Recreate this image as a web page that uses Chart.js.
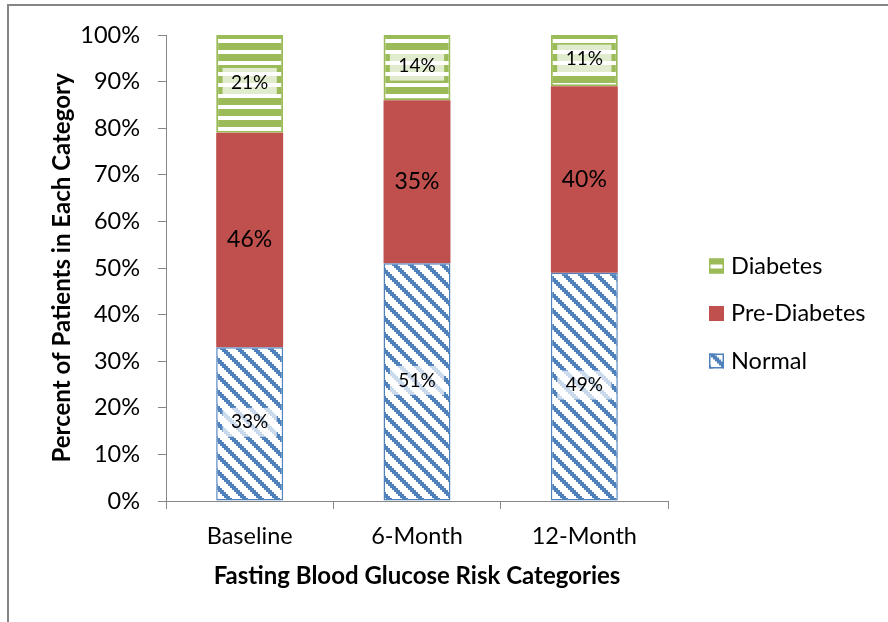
<!DOCTYPE html>
<html>
<head>
<meta charset="utf-8">
<script src="https://cdn.jsdelivr.net/npm/chart.js@4.4.1/dist/chart.umd.min.js"></script>
<style>
  html, body { margin: 0; padding: 0; background: #fff; }
  canvas { display: block; }
</style>
</head>
<body>
<canvas id="chart" width="888" height="622"></canvas>
<script>
// Categories and stacked series (percent of patients)
const categories = ['Baseline', '6-Month', '12-Month'];
const normal = [33, 51, 49];
const preDiabetes = [46, 35, 40];
const diabetes = [21, 14, 11];
const yTickStep = 10;

const FONT = 'Lato, Carlito, Calibri, sans-serif';
const TEXT_SIZE = 23.5;
const BLUE = '#4F81BD';
const RED = '#C0504D';
const GREEN = '#9BBB59';
const AXIS = '#868686';

// Wide downward-diagonal hatch (blue on white)
function diagonalPattern() {
  const c = document.createElement('canvas');
  c.width = 16; c.height = 16;
  const g = c.getContext('2d');
  g.fillStyle = '#fff';
  g.fillRect(0, 0, 16, 16);
  g.fillStyle = BLUE;
  for (let y = 0; y < 16; y += 2) {
    for (const dx of [-16, 0, 16]) g.fillRect(y + dx, y, 6, 2);
  }
  return g.createPattern(c, 'repeat');
}

// Wide horizontal stripes (green with white bands)
function horizontalPattern() {
  const c = document.createElement('canvas');
  c.width = 8; c.height = 11;
  const g = c.getContext('2d');
  g.fillStyle = GREEN;
  g.fillRect(0, 0, 8, 11);
  g.fillStyle = '#fff';
  g.fillRect(0, 6, 8, 4);
  return g.createPattern(c, 'repeat');
}

const normalFill = diagonalPattern();
const diabetesFill = horizontalPattern();

// Outer chart frame
const framePlugin = {
  id: 'frame',
  beforeDraw(chart) {
    const ctx = chart.ctx;
    ctx.save();
    ctx.fillStyle = AXIS;
    ctx.fillRect(7, 4, chart.width, 2);
    ctx.fillRect(7, 4, 2, chart.height);
    ctx.restore();
  }
};

// Value labels centred in each stacked segment
const valueLabels = {
  id: 'valueLabels',
  afterDatasetsDraw(chart) {
    const ctx = chart.ctx;
    chart.data.datasets.forEach((ds, di) => {
      const meta = chart.getDatasetMeta(di);
      if (meta.hidden) return;
      meta.data.forEach((bar, i) => {
        const text = ds.data[i] + '%';
        const x = bar.x;
        const y = (bar.y + bar.base) / 2 - (ds.labelBox ? 1.5 : 0);
        ctx.save();
        ctx.font = ds.labelSize + 'px ' + FONT;
        if (ds.labelBox) {
          const w = ctx.measureText(text).width + 17;
          const h = 29;
          ctx.fillStyle = 'rgba(255,255,255,0.7)';
          ctx.fillRect(x - w / 2, y - h / 2, w, h);
        }
        ctx.fillStyle = '#000';
        ctx.textAlign = 'center';
        ctx.textBaseline = 'middle';
        ctx.fillText(text, x, y);
        ctx.restore();
      });
    });
  }
};

// Legend on the right, listed top-down in reverse stacking order
const sideLegend = {
  id: 'sideLegend',
  afterDraw(chart, args, opts) {
    const ctx = chart.ctx;
    const items = chart.data.datasets.slice().reverse();
    const s = opts.box;
    items.forEach((ds, i) => {
      const cy = opts.top + i * opts.spacing;
      const bx = opts.left, by = cy - s / 2;
      ctx.save();
      ctx.translate(bx, by);
      ctx.fillStyle = ds.backgroundColor;
      ctx.fillRect(0, 0, s, s);
      if (ds.borderWidth) {
        ctx.strokeStyle = ds.borderColor;
        ctx.lineWidth = 1.5;
        ctx.strokeRect(0.75, 0.75, s - 1.5, s - 1.5);
      }
      ctx.restore();
      ctx.save();
      ctx.font = TEXT_SIZE + 'px ' + FONT;
      ctx.fillStyle = '#000';
      ctx.textAlign = 'left';
      ctx.textBaseline = 'middle';
      ctx.fillText(ds.label, bx + s + 7, cy);
      ctx.restore();
    });
  }
};

new Chart(document.getElementById('chart'), {
  type: 'bar',
  data: {
    labels: categories,
    datasets: [
      {
        label: 'Normal', data: normal,
        backgroundColor: normalFill, borderColor: BLUE, borderWidth: 1.5, borderSkipped: false,
        barPercentage: 0.4, categoryPercentage: 1,
        labelSize: 19, labelBox: true
      },
      {
        label: 'Pre-Diabetes', data: preDiabetes,
        backgroundColor: RED, borderWidth: 0,
        barPercentage: 0.4, categoryPercentage: 1,
        labelSize: 23, labelBox: false
      },
      {
        label: 'Diabetes', data: diabetes,
        backgroundColor: diabetesFill, borderColor: GREEN, borderWidth: 2, borderSkipped: false,
        barPercentage: 0.4, categoryPercentage: 1,
        labelSize: 19, labelBox: true
      }
    ]
  },
  options: {
    responsive: false,
    animation: false,
    events: [],
    layout: { padding: { left: 40, right: 220, top: 35, bottom: 30 } },
    plugins: {
      legend: { display: false },
      tooltip: { enabled: false },
      sideLegend: { left: 709, top: 266, spacing: 47.5, box: 15 }
    },
    scales: {
      x: {
        stacked: true,
        ticks: { font: { family: FONT, size: TEXT_SIZE }, color: '#000', padding: 13 },
        grid: { drawOnChartArea: false, drawTicks: true, tickLength: 8, color: AXIS, offset: true },
        border: { color: AXIS, width: 1 },
        title: {
          display: true, text: 'Fasting Blood Glucose Risk Categories',
          font: { family: FONT, size: 24, weight: 'bold' }, color: '#000',
          padding: { top: 0, bottom: 1 }
        },
        afterFit(scale) { scale.height = 91; }
      },
      y: {
        stacked: true, min: 0, max: 100,
        ticks: { stepSize: yTickStep, callback: v => v + '%', font: { family: FONT, size: TEXT_SIZE }, color: '#000', padding: 18 },
        grid: { drawOnChartArea: false, drawTicks: true, tickLength: 8, color: AXIS },
        border: { color: AXIS, width: 1 },
        title: {
          display: true, text: 'Percent of Patients in Each Category',
          font: { family: FONT, size: 24, weight: 'bold' }, color: '#000',
          padding: { top: 8, bottom: 0 }
        },
        afterFit(scale) { scale.width = 126; }
      }
    }
  },
  plugins: [framePlugin, valueLabels, sideLegend]
});
</script>
</body>
</html>
